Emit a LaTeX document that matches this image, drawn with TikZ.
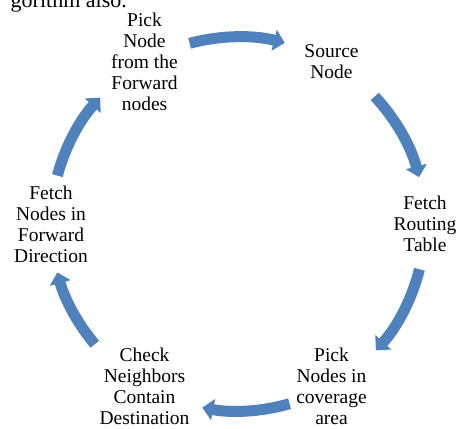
\documentclass[tikz,border=0pt]{standalone}
\usepackage{fontspec}
\setmainfont{Liberation Serif}
\usetikzlibrary{arrows.meta}
\definecolor{accentblue}{HTML}{4F81BD}
\begin{document}
\begin{tikzpicture}[x=1pt,y=1pt,
  lbl/.style={align=center, font=\fontsize{19.5}{21}\selectfont, inner sep=0pt},
  flow/.style={draw=accentblue, line width=11pt, -{Triangle[length=11pt,width=21pt]}}]
\useasboundingbox (0,0) rectangle (460,428);
\clip (0,0) rectangle (460,428);
\coordinate (c) at (238,204);
\node[font=\fontsize{22}{24}\selectfont, anchor=base east, inner sep=0pt] (prev) at (127,420) {gorithm also.};
\node[lbl] (pick) at ([shift={(c)}]120:187pt) {Pick\\Node\\from the\\Forward\\nodes};
\node[lbl] (src) at ([shift={(c)}]60:187pt) {Source\\Node};
\node[lbl] (fetchrt) at ([shift={(c)}]0:187pt) {Fetch\\Routing\\Table};
\node[lbl] (pickcov) at ([shift={(c)}]-60:187pt) {Pick\\Nodes in\\coverage\\area};
\node[lbl] (check) at ([shift={(c)}]-120:187pt) {Check\\Neighbors\\Contain\\Destination};
\node[lbl] (fetchfw) at ([shift={(c)}]180:187pt) {Fetch\\Nodes in\\Forward\\Direction};
\draw[flow] ([shift={(c)}]105:187pt) arc[start angle=105, end angle=75.5, radius=187pt];
\draw[flow] ([shift={(c)}]43:187pt) arc[start angle=43, end angle=14.5, radius=187pt];
\draw[flow] ([shift={(c)}]-14:187pt) arc[start angle=-14, end angle=-42.5, radius=187pt];
\draw[flow] ([shift={(c)}]-74:187pt) arc[start angle=-74, end angle=-101, radius=187pt];
\draw[flow] ([shift={(c)}]-140:187pt) arc[start angle=-140, end angle=-165, radius=187pt];
\draw[flow] ([shift={(c)}]165:187pt) arc[start angle=165, end angle=137.5, radius=187pt];
\end{tikzpicture}
\end{document}
